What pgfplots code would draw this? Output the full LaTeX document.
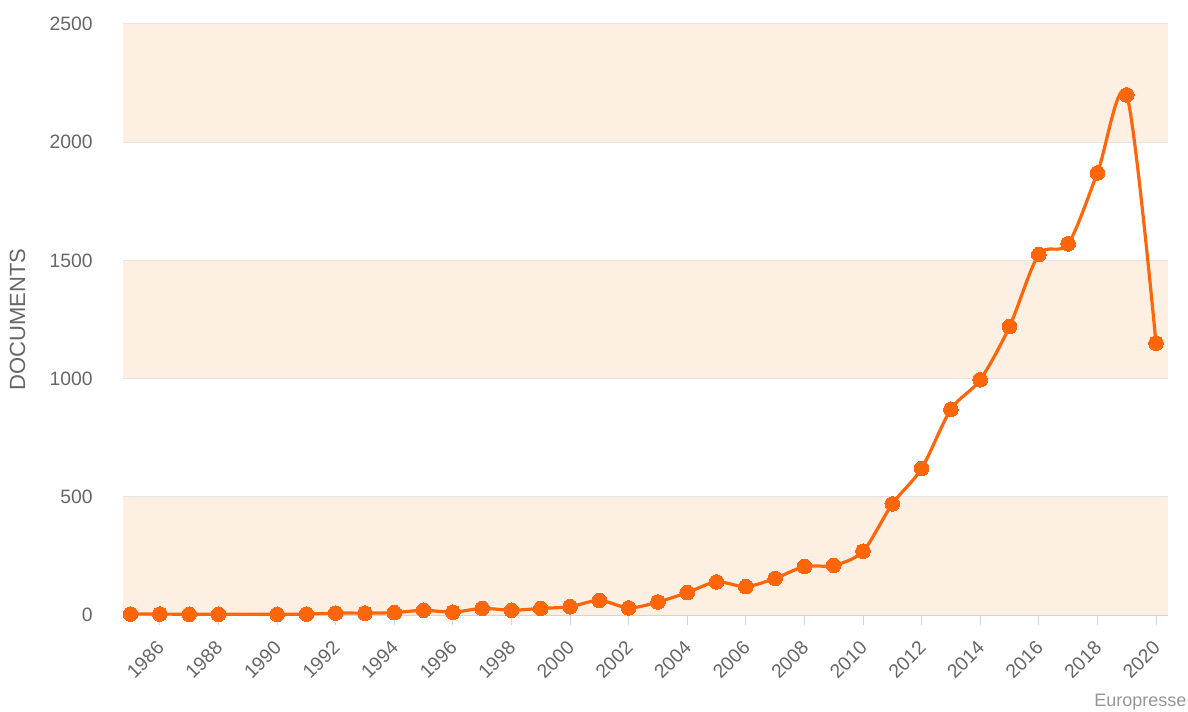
\documentclass[border=0pt]{standalone}
\usepackage{fontspec}
\setmainfont{Liberation Sans}
\usepackage{pgfplots}
\pgfplotsset{compat=1.18}
\definecolor{lineor}{RGB}{255,102,10}
\definecolor{band}{RGB}{253,240,226}
\definecolor{gridc}{RGB}{228,228,228}
\definecolor{axc}{RGB}{204,214,235}
\definecolor{txt}{RGB}{102,102,102}
\definecolor{credit}{RGB}{150,150,150}
\begin{document}
\begin{tikzpicture}
\path[use as bounding box] (0,0) rectangle (891pt,533.25pt);
% background bands (0-500, 1000-1500, 2000-2500); axis box: x 92.25..876pt, y 72..515.25pt
\fill[band] (92.25pt,72pt) rectangle (876pt,160.65pt);
\fill[band] (92.25pt,249.3pt) rectangle (876pt,337.95pt);
\fill[band] (92.25pt,426.6pt) rectangle (876pt,515.25pt);
\begin{axis}[
  at={(92.25pt,72pt)}, anchor=south west,
  scale only axis, width=783.75pt, height=443.25pt,
  xmin=1984.74, xmax=2020.41, ymin=0, ymax=2500,
  xtick={1986,1988,...,2020},
  ytick={0,500,...,2500},
  /pgf/number format/assume math mode=true,
  /pgf/number format/set thousands separator={},
  ymajorgrids, grid style={gridc, line width=0.75pt},
  axis x line*=bottom, axis y line*=left,
  x axis line style={axc, line width=0.75pt, -},
  y axis line style={draw=none},
  tick align=outside,
  xtick style={axc, line width=0.75pt},
  major tick length=7.5pt,
  ytick style={draw=none},
  ticklabel style={font=\fontsize{14.5}{16}\selectfont, text=txt},
  xticklabel style={rotate=45, anchor=east, inner sep=0pt, xshift=-9.9pt, yshift=-10.75pt},
  yticklabel style={anchor=east, inner sep=0pt, xshift=-15pt},
  ylabel={DOCUMENTS},
  every axis y label/.style={at={(axis description cs:-0.101,0.5)}, rotate=90, anchor=center, font=\fontsize{16.5}{18}\selectfont, text=txt},
]
\addplot[lineor, line width=2.4pt, smooth, tension=0.5,
  mark=*, mark size=5.5pt, mark options={fill=lineor, draw=lineor, line width=0pt}]
coordinates {
(1985,4)(1986,4)(1987,3)(1988,3)(1990,3)(1991,4)(1992,8)(1993,8)(1994,10)
(1995,20)(1996,12)(1997,28)(1998,20)(1999,28)(2000,35)(2001,62)(2002,30)
(2003,55)(2004,95)(2005,140)(2006,120)(2007,155)(2008,205)(2009,210)
(2010,270)(2011,470)(2012,620)(2013,870)(2014,995)(2015,1220)(2016,1525)
(2017,1570)(2018,1870)(2019,2200)(2020,1150)
};
\end{axis}
\node[anchor=east, inner sep=0pt, text=credit, font=\fontsize{13.5}{15}\selectfont] at (890pt,6.75pt) {Europresse};
\end{tikzpicture}
\end{document}
